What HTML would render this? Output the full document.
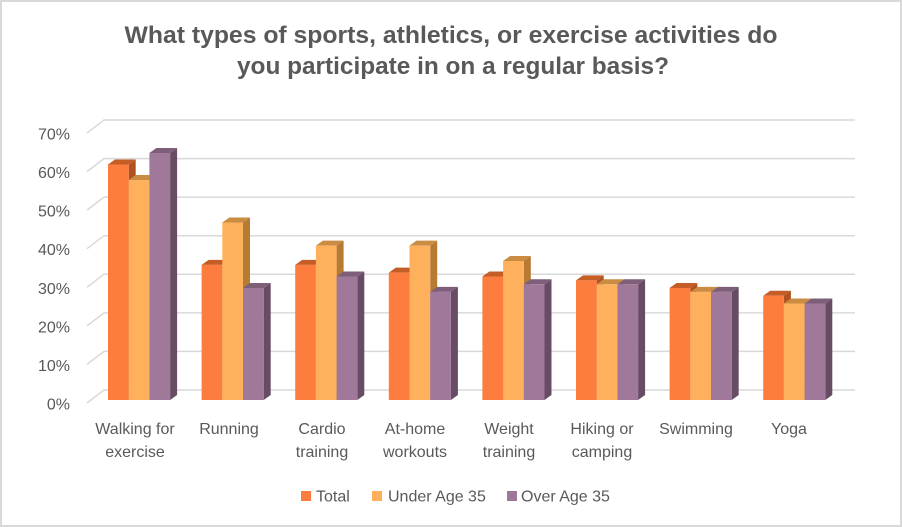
<!DOCTYPE html>
<html><head><meta charset="utf-8"><style>
html,body{margin:0;padding:0;background:#fff;}
svg{display:block;}
text{font-family:"Liberation Sans",sans-serif;fill:#595959;}
</style></head><body>
<svg width="902" height="527" viewBox="0 0 902 527" xmlns="http://www.w3.org/2000/svg">
<rect x="1" y="1" width="900" height="525" fill="#fff" stroke="#d9d9d9" stroke-width="2"/>
<text x="451" y="43" font-size="24" font-weight="bold" text-anchor="middle" textLength="653" lengthAdjust="spacingAndGlyphs">What types of sports, athletics, or exercise activities do</text>
<text x="453" y="74" font-size="24" font-weight="bold" text-anchor="middle" textLength="432" lengthAdjust="spacingAndGlyphs">you participate in on a regular basis?</text>
<g stroke="#d9d9d9" stroke-width="1.5" fill="none">
<path d="M87 403 L104 390 L855 390"/>
<path d="M87 364.4 L104 351.4 L855 351.4"/>
<path d="M87 325.9 L104 312.9 L855 312.9"/>
<path d="M87 287.3 L104 274.3 L855 274.3"/>
<path d="M87 248.7 L104 235.7 L855 235.7"/>
<path d="M87 210.1 L104 197.1 L855 197.1"/>
<path d="M87 171.6 L104 158.6 L855 158.6"/>
<path d="M87 133 L104 120 L855 120"/>
</g>
<g font-size="16" text-anchor="end">
<text x="70" y="409.5">0%</text>
<text x="70" y="370.9">10%</text>
<text x="70" y="332.4">20%</text>
<text x="70" y="293.8">30%</text>
<text x="70" y="255.2">40%</text>
<text x="70" y="216.6">50%</text>
<text x="70" y="178.1">60%</text>
<text x="70" y="139.5">70%</text>
</g>
<g id="bars"></g>
<g font-size="16" text-anchor="middle">
<text x="135" y="434">Walking for</text><text x="135" y="457">exercise</text>
<text x="229" y="434">Running</text>
<text x="322" y="434">Cardio</text><text x="322" y="457">training</text>
<text x="415" y="434">At-home</text><text x="415" y="457">workouts</text>
<text x="509" y="434">Weight</text><text x="509" y="457">training</text>
<text x="602" y="434">Hiking or</text><text x="602" y="457">camping</text>
<text x="696" y="434">Swimming</text>
<text x="789" y="434">Yoga</text>
</g>
<rect x="301" y="491" width="10" height="10" fill="#fd7d3e"/>
<text x="316" y="501.5" font-size="16">Total</text>
<rect x="372" y="491" width="10" height="10" fill="#ffb05c"/>
<text x="388" y="501.5" font-size="16">Under Age 35</text>
<rect x="507" y="491" width="10" height="10" fill="#a0789a"/>
<text x="521" y="501.5" font-size="16">Over Age 35</text>
<script>
(function(){
var data=[[61,57,64],[35,46,29],[35,40,32],[33,40,28],[32,36,30],[31,30,30],[29,28,28],[27,25,25]];
var cols=[["#fd7d3e","#c55d26","#b0521f"],["#ffb05c","#c98c42","#b67a33"],["#a0789a","#7e5f79","#684c64"]];
var g=document.getElementById("bars");var ns="http://www.w3.org/2000/svg";
var dx=7,dy=5,w=20.7,base=400,s=3.86;
function poly(p,c){var e=document.createElementNS(ns,"polygon");e.setAttribute("points",p);e.setAttribute("fill",c);g.appendChild(e);}
for(var i=0;i<8;i++){for(var j=0;j<3;j++){
var x=108+93.6*i+j*w,top=base-data[i][j]*s,x2=x+w;
poly(x2+","+top+" "+(x2+dx)+","+(top-dy)+" "+(x2+dx)+","+(base-dy)+" "+x2+","+base,cols[j][2]);
poly(x+","+top+" "+(x+dx)+","+(top-dy)+" "+(x2+dx)+","+(top-dy)+" "+x2+","+top,cols[j][1]);
poly(x+","+top+" "+x2+","+top+" "+x2+","+base+" "+x+","+base,cols[j][0]);
}}
})();
</script>
</svg>
</body></html>
